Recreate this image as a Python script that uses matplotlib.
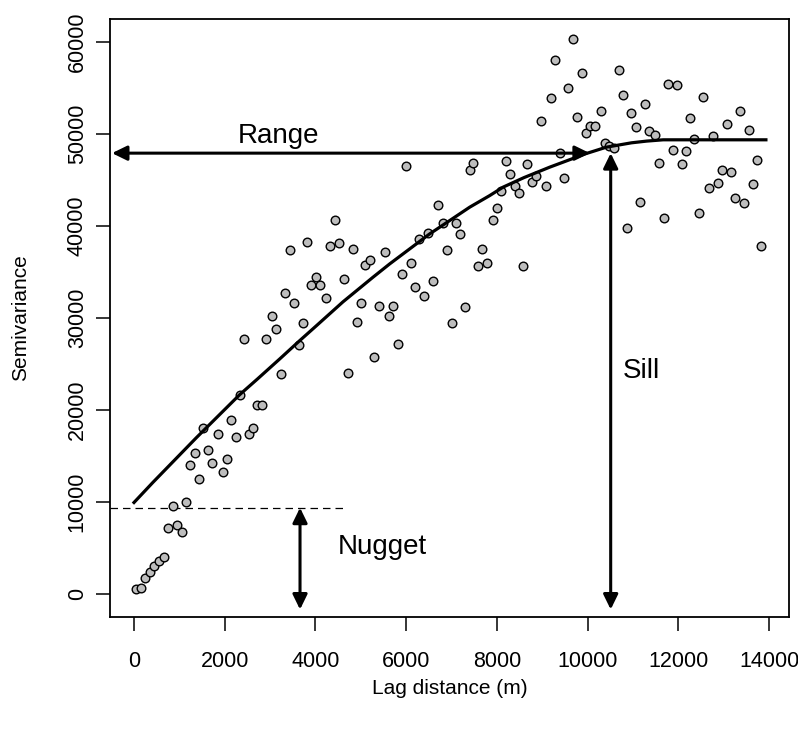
import numpy as np
import matplotlib
matplotlib.use("Agg")
import matplotlib.pyplot as plt
from matplotlib.patches import FancyArrowPatch

plt.rcParams['font.family'] = ['Liberation Sans', 'DejaVu Sans']

# empirical semivariogram points (lag, semivariance)
lag = [48, 150, 247, 342, 437, 541, 666, 755, 953, 1048, 849, 1136, 1430, 1240,
       1341, 1628, 1725, 1952, 2041, 1527, 1849, 2239, 2144, 2526, 2621, 2327,
       2718, 2819, 4430, 3812, 3430, 4328, 4527, 4820, 4011, 3909, 4099, 4622,
       4232, 3335, 3526, 3040, 3137, 3717, 2422, 2916, 3629, 3239, 4717, 5100,
       5202, 5526, 5004, 4909, 5394, 5718, 5621, 5299, 5813, 5908, 6100, 6203,
       6393, 6585, 6291, 6481, 6710, 6812, 7099, 7196, 6900, 7004, 7291, 7681,
       7584, 7776, 7909, 8004, 8100, 8394, 8489, 8577, 8776, 9093, 9482, 6005,
       7401, 7483, 8196, 8291, 8674, 8873, 9387, 8968, 9195, 9578, 9292, 9872,
       9680, 9768, 9960, 10682, 10770, 10291, 10055, 10159, 10960, 11255, 11070,
       11343, 11489, 10380, 10468, 10578, 11769, 11961, 12541, 12254, 13064,
       13351, 13550, 12350, 12769, 11880, 12160, 11577, 12071, 12961, 13152,
       13739, 12681, 12872, 13638, 13254, 13439, 11152, 11674, 12453, 10872,
       13827]
semivar = [543, 685, 1815, 2424, 3076, 3587, 4022, 7250, 7576, 6739, 9598, 10076,
           12467, 14022, 15293, 15620, 14207, 13228, 14674, 18011, 17391, 17033,
           18946, 17391, 18011, 21663, 20543, 20543, 40685, 38293, 37359, 37826,
           38152, 37500, 34489, 33554, 33554, 34207, 32141, 32750, 31630, 30217,
           28772, 29424, 27685, 27685, 27065, 23880, 24054, 35761, 36272, 37207,
           31630, 29565, 31337, 31337, 30217, 25793, 27207, 34815, 35946, 33402,
           32424, 34022, 38587, 39272, 42283, 40359, 40359, 39098, 37359, 29424,
           31163, 37500, 35620, 35946, 40685, 41957, 43837, 44315, 43554, 35620,
           44783, 44315, 45200, 46554, 46087, 46880, 47033, 45620, 46707, 45435,
           47967, 51337, 53837, 54967, 57967, 56554, 60340, 51815, 50050, 56920,
           54163, 52424, 50870, 50870, 52283, 53261, 50724, 50250, 49924, 48989,
           48728, 48478, 55435, 55293, 54022, 51663, 51011, 52424, 50359, 49489,
           49750, 48293, 48116, 46880, 46707, 46120, 45837, 47174, 44163, 44674,
           44533, 43076, 42500, 42641, 40837, 41380, 39750, 37826]

# fitted model curve
fit_lag = [0, 415, 1372, 2327, 2720, 3210, 3651, 4019, 4606, 5268, 5636, 6077,
           6518, 6960, 7401, 7842, 8136, 8600, 9166, 9460, 9950, 10416, 10968,
           11299, 11666, 13931]
fit_val = [9967, 12141, 16989, 21663, 23370, 25543, 27533, 29150, 31750, 34424,
           35870, 37500, 39130, 40580, 42033, 43293, 44207, 45250, 46380, 46920,
           47826, 48550, 49022, 49206, 49348, 49348]

x_ticks = [0, 2000, 4000, 6000, 8000, 10000, 12000, 14000]
y_ticks = [0, 10000, 20000, 30000, 40000, 50000, 60000]

nugget = 9400
sill = 47900
range_end = 10050
sill_x = 10509
nugget_x = 3660

fig = plt.figure(figsize=(7.98, 7.31), dpi=100)
ax = fig.add_axes([110 / 798, 1 - 616.7 / 731, 679 / 798, 597.7 / 731])
xlo, xhi = -529, 14440
ylo, yhi = -2432, 62465
ax.set_xlim(xlo, xhi)
ax.set_ylim(ylo, yhi)

ax.plot(lag, semivar, 'o', ms=6.2, mfc='#bdbdbd', mec='black', mew=1.0, zorder=3)
ax.plot(fit_lag, fit_val, color='black', lw=2.3, zorder=4)

# nugget dashed line
ax.plot([xlo, 4644], [nugget, nugget], color='black', lw=0.9, ls=(0, (6, 4)))

def arrow(p0, p1):
    a = FancyArrowPatch(p0, p1, arrowstyle='<|-|>,head_length=0.45,head_width=0.22',
                        mutation_scale=20, color='black', lw=2.2,
                        shrinkA=0, shrinkB=0, zorder=5)
    ax.add_patch(a)

arrow((-485, sill), (range_end, sill))
arrow((sill_x, -1650), (sill_x, sill))
arrow((nugget_x, -1650), (nugget_x, nugget))

ax.text(3186, 49000, 'Range', fontsize=20, ha='center', va='baseline')
ax.text(10780, 23450, 'Sill', fontsize=20, ha='left', va='baseline')
ax.text(5467, 4380, 'Nugget', fontsize=20, ha='center', va='baseline')

ax.set_xticks(x_ticks)
ax.set_xticklabels([str(v) for v in x_ticks])
ax.set_yticks(y_ticks)
ax.set_yticklabels([str(v) for v in y_ticks], rotation=90, va='center')
ax.tick_params(axis='x', length=10, width=1.1, labelsize=15.5, pad=15)
ax.tick_params(axis='y', length=10, width=1.1, labelsize=15.5, pad=6)
for s in ax.spines.values():
    s.set_linewidth(1.3)

fig.text(449.5 / 798, 1 - 688 / 731, 'Lag distance (m)', fontsize=15,
         ha='center', va='center')
fig.text(21 / 798, 1 - 318 / 731, 'Semivariance', fontsize=15,
         ha='center', va='center', rotation=90)

fig.savefig('out.png', dpi=100)
